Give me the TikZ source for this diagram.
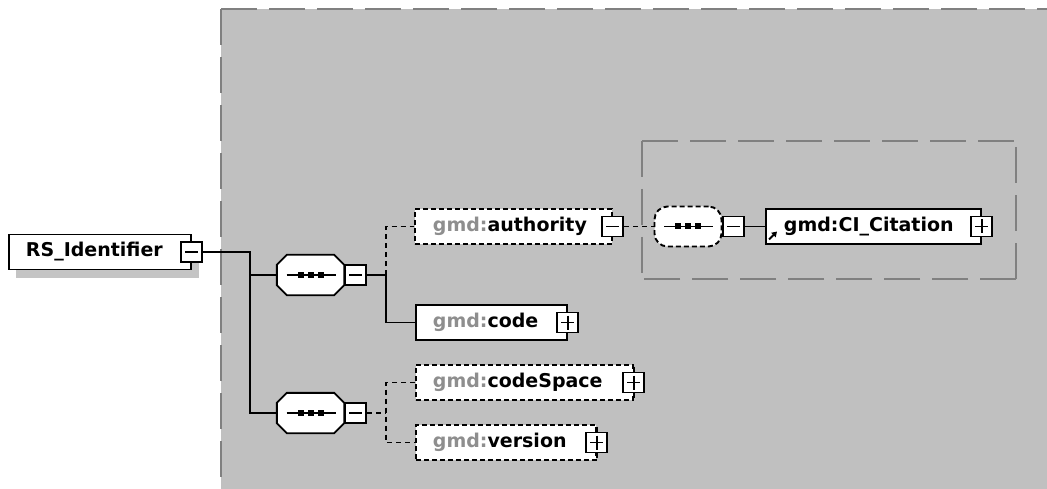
\documentclass[tikz,border=0pt]{standalone}
\usepackage{fontspec}
\setmainfont{DejaVu Sans}
\usetikzlibrary{arrows.meta}
\definecolor{bggray}{HTML}{C0C0C0}
\definecolor{dgray}{HTML}{808080}
\definecolor{pfx}{HTML}{8E8E8E}
\definecolor{shadowgray}{HTML}{C4C4C4}
\newcommand{\gmpfx}{\textcolor{pfx}{gmd:}}
\newcommand{\seqicon}[1]{%
  \draw[line width=1.6pt] ([xshift=-24pt]#1.center) -- ([xshift=25pt]#1.center);
  \foreach \dx in {-10,0,10}{\fill ([xshift=\dx pt]#1.center) +(-3,-3) rectangle +(3,3);}%
}
\newcommand{\octo}[1]{%
  \filldraw[fill=white, draw=black, line width=1.9pt]
    ([xshift=10pt]#1.north west) -- ([xshift=-10pt]#1.north east)
    -- ([yshift=-10pt]#1.north east) -- ([yshift=10pt]#1.south east)
    -- ([xshift=-10pt]#1.south east) -- ([xshift=10pt]#1.south west)
    -- ([yshift=10pt]#1.south west) -- ([yshift=-10pt]#1.north west) -- cycle;%
}
\begin{document}
\begin{tikzpicture}[x=1pt,y=-1pt,
  elem/.style={draw=black, line width=1.9pt, fill=white, minimum height=35pt,
    inner xsep=0pt, inner ysep=0pt, anchor=west,
    font=\fontsize{19}{22}\selectfont\bfseries, align=left},
  optelem/.style={elem, dash pattern=on 5pt off 3pt},
  sqr/.style={draw=black, line width=1.9pt, fill=white, minimum width=21pt,
    minimum height=20pt, inner sep=0pt},
  minussq/.style={sqr, path picture={\draw[line width=1.6pt]
    ([xshift=4pt]path picture bounding box.west) -- ([xshift=-4pt]path picture bounding box.east);}},
  plussq/.style={sqr, path picture={\draw[line width=1.6pt]
    ([xshift=4pt]path picture bounding box.west) -- ([xshift=-4pt]path picture bounding box.east)
    ([yshift=-3pt]path picture bounding box.north) -- ([yshift=3pt]path picture bounding box.south);}},
  seqbox/.style={rectangle, draw=none, minimum width=67pt, minimum height=40pt, inner sep=0pt},
  optseq/.style={rectangle, rounded corners=13pt, draw=black, line width=1.9pt,
    fill=white, minimum width=67pt, minimum height=40pt, inner sep=0pt,
    dash pattern=on 5pt off 3pt},
  conn/.style={draw=black, line width=1.9pt},
  optconn/.style={conn, dash pattern=on 5pt off 4pt},
  grpline/.style={draw=dgray, line width=2pt, dash pattern=on 36pt off 12pt},
]
\useasboundingbox (0,0) rectangle (1047,489);
\fill[white] (0,0) rectangle (1047,489);
% outer group
\fill[bggray] (221,9) rectangle (1047,489);
\draw[grpline] (221,9) -- (221,489);
\draw[grpline] (221,9) -- (1047,9);
% inner group
\draw[grpline, line width=1.8pt] (642,141) -- (1016,141);
\draw[grpline, line width=1.8pt] (642,141) -- (642,279);
\draw[grpline, line width=1.8pt] (1016,279) -- (642,279);
\draw[grpline, line width=1.8pt] (1016,279) -- (1016,141);
% root shadow
\fill[shadowgray] (16,244) rectangle (199,278);
% root
\node[elem, text width=182pt] (rs) at (8,252) {\hspace*{17pt}RS\_Identifier};
\node[minussq] (rssq) at (rs.east) {};
% sequences
\node[seqbox] (s1) at (310.5,275) {};
\octo{s1}
\seqicon{s1}
\node[minussq, anchor=west] (s1sq) at (s1.east) {};
\node[seqbox] (s2) at (310.5,413) {};
\octo{s2}
\seqicon{s2}
\node[minussq, anchor=west] (s2sq) at (s2.east) {};
% elements
\node[optelem, text width=197pt] (auth) at (414,226.5) {\hspace*{18pt}\gmpfx authority};
\node[minussq] (authsq) at (auth.east) {};
\node[elem, text width=151pt] (code) at (415,322.5) {\hspace*{17pt}\gmpfx code};
\node[plussq] (codesq) at (code.east) {};
\node[optelem, text width=217pt] (cs) at (415,382.5) {\hspace*{17pt}\gmpfx codeSpace};
\node[plussq] (cssq) at (cs.east) {};
\node[optelem, text width=180pt] (ver) at (415,442.5) {\hspace*{17pt}\gmpfx version};
\node[plussq] (versq) at (ver.east) {};
\draw[line width=1.6pt] ([yshift=5pt]cssq.north) -- (cssq.north) (cssq.south) -- ([yshift=-5pt]cssq.south);
\draw[line width=1.6pt] ([yshift=5pt]versq.north) -- (versq.north) (versq.south) -- ([yshift=-5pt]versq.south);
% inner sequence
\node[optseq] (s3) at (688,226.5) {};
\seqicon{s3}
\node[minussq, anchor=west] (s3sq) at (s3.east) {};
\node[elem, text width=215pt] (ci) at (765,226.5) {\hspace*{18pt}gmd:CI\_Citation};
\node[plussq] (cisq) at (ci.east) {};
\draw[line width=2pt, -{Triangle[length=5pt,width=6pt]}] ([shift={(4,13)}]ci.west) -- ([shift={(12,5)}]ci.west);
% connectors
\draw[conn] (rssq.east) -- ++(47,0) coordinate (j0) |- (s2.west);
\draw[conn] (s1.west) -- (s1.west -| j0);
\draw[conn] (s1sq.east) -- ++(19,0) coordinate (b1);
\draw[optconn] (b1) |- (auth.west);
\draw[conn] (b1) |- (code.west);
\draw[optconn] (s2sq.east) -- ++(19,0) coordinate (b2);
\draw[optconn] (cs.west) -| (b2 |- ver.west) -- (ver.west);
\draw[optconn] (authsq.east) -- (s3.west);
\draw[conn] (s3sq.east) -- (ci.west);
\end{tikzpicture}
\end{document}
